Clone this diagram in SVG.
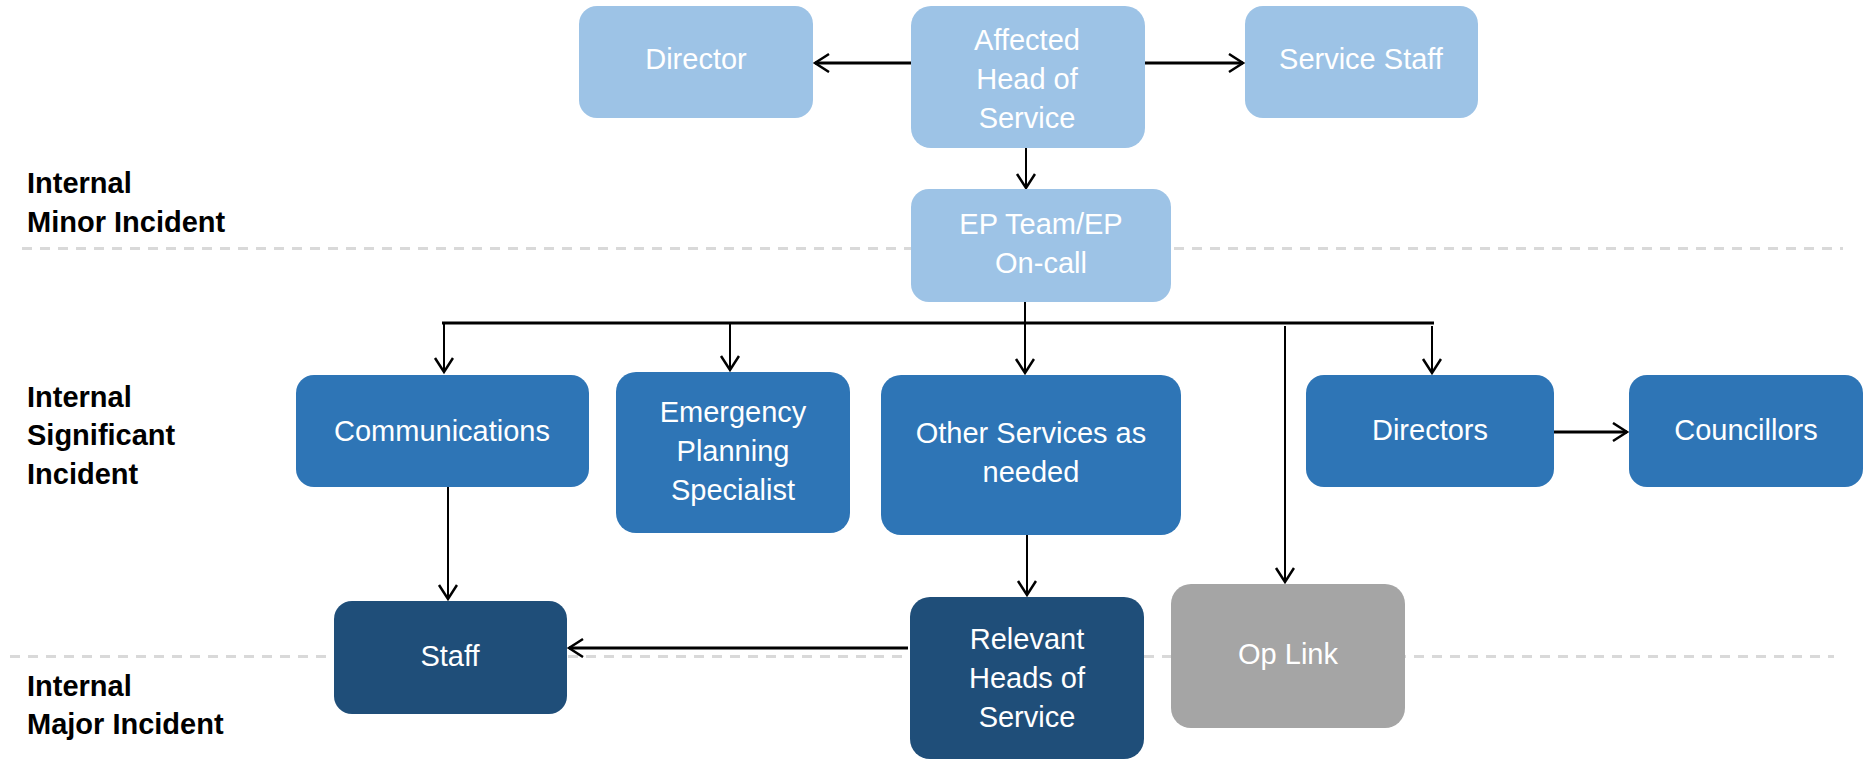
<svg xmlns="http://www.w3.org/2000/svg" width="1865" height="763" viewBox="0 0 1865 763">
<defs>
<marker id="arr" markerUnits="userSpaceOnUse" markerWidth="20" markerHeight="22" refX="16" refY="10" orient="auto">
<path d="M2,1 L16,10 L2,19" fill="none" stroke="#000" stroke-width="2.5"/>
</marker>
<style>
.n1{fill:#9DC3E6}
.n2{fill:#2E75B6}
.n3{fill:#1F4E79}
.n4{fill:#A5A5A5}
.t{font-family:"Liberation Sans",Arial,sans-serif;font-size:29px;fill:#fff;text-anchor:middle}
.lbl{font-family:"Liberation Sans",Arial,sans-serif;font-size:29px;font-weight:bold;fill:#000}
.dash{stroke:#D9D9D9;stroke-width:3;stroke-dasharray:10 8;fill:none}
.c{stroke:#000;stroke-width:2;fill:none}
.c2{stroke:#000;stroke-width:3;fill:none}
</style>
</defs>
<rect width="1865" height="763" fill="#fff"/>
<g id="bands">
<line class="dash" x1="22" y1="248.5" x2="1843" y2="248.5"/>
<line class="dash" x1="10" y1="656.5" x2="1834" y2="656.5"/>
<text class="lbl" x="27" y="193">Internal</text>
<text class="lbl" x="27" y="232">Minor Incident</text>
<text class="lbl" x="27" y="407">Internal</text>
<text class="lbl" x="27" y="445">Significant</text>
<text class="lbl" x="27" y="484">Incident</text>
<text class="lbl" x="27" y="696">Internal</text>
<text class="lbl" x="27" y="734">Major Incident</text>
</g>
<g id="connectors">
<line class="c2" x1="911" y1="63" x2="815" y2="63" marker-end="url(#arr)"/>
<line class="c2" x1="1145" y1="63" x2="1243" y2="63" marker-end="url(#arr)"/>
<line class="c" x1="1026" y1="148" x2="1026" y2="188" marker-end="url(#arr)"/>
<line class="c" x1="1025" y1="302" x2="1025" y2="323"/>
<line class="c2" x1="442" y1="323" x2="1434" y2="323"/>
<line class="c" x1="444" y1="323" x2="444" y2="372" marker-end="url(#arr)"/>
<line class="c" x1="730" y1="323" x2="730" y2="370" marker-end="url(#arr)"/>
<line class="c" x1="1025" y1="323" x2="1025" y2="373" marker-end="url(#arr)"/>
<line class="c" x1="1285" y1="326" x2="1285" y2="582" marker-end="url(#arr)"/>
<line class="c" x1="1432" y1="326" x2="1432" y2="373" marker-end="url(#arr)"/>
<line class="c2" x1="1554" y1="432" x2="1627" y2="432" marker-end="url(#arr)"/>
<line class="c" x1="448" y1="487" x2="448" y2="599" marker-end="url(#arr)"/>
<line class="c" x1="1027" y1="535" x2="1027" y2="595" marker-end="url(#arr)"/>
<line class="c2" x1="908" y1="648" x2="569" y2="648" marker-end="url(#arr)"/>
</g>
<g id="director"><rect class="n1" x="579" y="6" width="234" height="112" rx="18"/><text class="t" x="696" y="69">Director</text></g>
<g id="affected-head"><rect class="n1" x="911" y="6" width="234" height="142" rx="20"/><text class="t" x="1027" y="50">Affected</text><text class="t" x="1027" y="89">Head of</text><text class="t" x="1027" y="128">Service</text></g>
<g id="service-staff"><rect class="n1" x="1245" y="6" width="233" height="112" rx="18"/><text class="t" x="1361" y="69">Service Staff</text></g>
<g id="ep-team"><rect class="n1" x="911" y="189" width="260" height="113" rx="18"/><text class="t" x="1041" y="234">EP Team/EP</text><text class="t" x="1041" y="273">On-call</text></g>
<g id="communications"><rect class="n2" x="296" y="375" width="293" height="112" rx="18"/><text class="t" x="442" y="441">Communications</text></g>
<g id="ep-specialist"><rect class="n2" x="616" y="372" width="234" height="161" rx="20"/><text class="t" x="733" y="422">Emergency</text><text class="t" x="733" y="461">Planning</text><text class="t" x="733" y="500">Specialist</text></g>
<g id="other-services"><rect class="n2" x="881" y="375" width="300" height="160" rx="20"/><text class="t" x="1031" y="443">Other Services as</text><text class="t" x="1031" y="482">needed</text></g>
<g id="directors"><rect class="n2" x="1306" y="375" width="248" height="112" rx="18"/><text class="t" x="1430" y="440">Directors</text></g>
<g id="councillors"><rect class="n2" x="1629" y="375" width="234" height="112" rx="18"/><text class="t" x="1746" y="440">Councillors</text></g>
<g id="staff"><rect class="n3" x="334" y="601" width="233" height="113" rx="18"/><text class="t" x="450" y="666">Staff</text></g>
<g id="relevant-heads"><rect class="n3" x="910" y="597" width="234" height="162" rx="20"/><text class="t" x="1027" y="649">Relevant</text><text class="t" x="1027" y="688">Heads of</text><text class="t" x="1027" y="727">Service</text></g>
<g id="op-link"><rect class="n4" x="1171" y="584" width="234" height="144" rx="20"/><text class="t" x="1288" y="664">Op Link</text></g>
</svg>
